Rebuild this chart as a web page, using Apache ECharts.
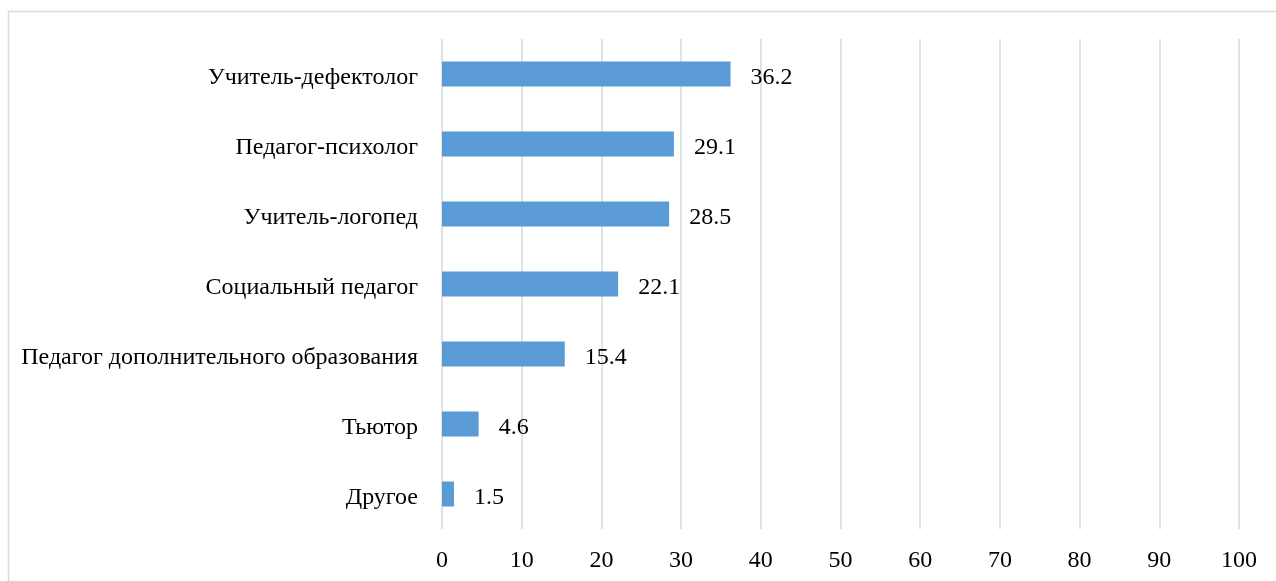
<!DOCTYPE html>
<html>
<head>
<meta charset="utf-8">
<script src="https://cdn.jsdelivr.net/npm/echarts@6/dist/echarts.min.js"></script>
<style>
  html, body { margin: 0; padding: 0; background: #fff; }
  #chart { width: 1276px; height: 581px; }
</style>
</head>
<body>
<div id="chart"></div>
<script>
// categories listed bottom to top
const categories = [
  "Другое",
  "Тьютор",
  "Педагог дополнительного образования",
  "Социальный педагог",
  "Учитель-логопед",
  "Педагог-психолог",
  "Учитель-дефектолог"
];
const values = [1.5, 4.6, 15.4, 22.1, 28.5, 29.1, 36.2];
const axisMin = 0;
const axisMax = 100;
const axisStep = 10;

const font = "'Liberation Serif', 'Times New Roman', serif";
const chart = echarts.init(document.getElementById("chart"));

chart.setOption({
  animation: false,
  textStyle: { fontFamily: font, color: "#000" },
  graphic: [
    {
      type: "rect",
      shape: { x: 8.5, y: 11.5, width: 1300, height: 600 },
      style: { fill: "none", stroke: "#d9d9d9", lineWidth: 1.5 },
      silent: true
    }
  ],
  grid: { left: 442, right: 37, top: 39, bottom: 52, containLabel: false },
  xAxis: {
    type: "value",
    min: axisMin,
    max: axisMax,
    interval: axisStep,
    axisLine: { show: false },
    axisTick: { show: false },
    axisLabel: { fontSize: 24, color: "#000", fontFamily: font, margin: 20 },
    splitLine: { show: true, lineStyle: { color: "#d9d9d9", width: 1.5 } }
  },
  yAxis: {
    type: "category",
    data: categories,
    axisLine: { show: false },
    axisTick: { show: false },
    // nudge labels a few px below the bar centre, as in the original
    axisLabel: {
      fontSize: 24, color: "#000", fontFamily: font, margin: 24,
      verticalAlign: "top", lineHeight: 8
    }
  },
  series: [
    {
      type: "bar",
      data: values,
      barWidth: 25,
      itemStyle: { color: "#5b9bd5" },
      label: {
        show: true,
        position: "right",
        distance: 20,
        fontSize: 24,
        color: "#000",
        fontFamily: font,
        offset: [0, 4]
      }
    }
  ]
});
</script>
</body>
</html>
